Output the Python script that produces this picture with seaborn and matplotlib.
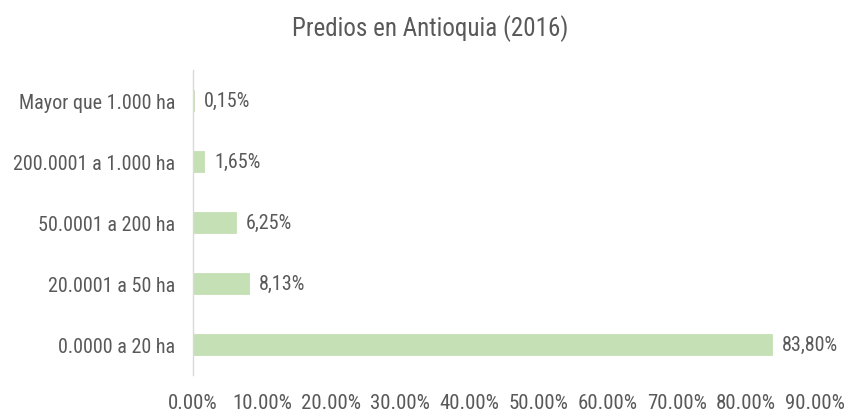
import matplotlib.pyplot as plt
import seaborn as sns
import pandas as pd

categorias = ["Mayor que 1.000 ha", "200.0001 a 1.000 ha", "50.0001 a 200 ha",
              "20.0001 a 50 ha", "0.0000 a 20 ha"]
porcentajes = [0.15, 1.65, 6.25, 8.13, 83.80]
ticks = [0, 10, 20, 30, 40, 50, 60, 70, 80, 90]

sns.set_style("white")
plt.rcParams["font.family"] = ["Roboto Condensed", "Liberation Sans", "DejaVu Sans"]

gris = "#595959"
df = pd.DataFrame({"cat": categorias, "pct": porcentajes})

fig = plt.figure(figsize=(8.47, 4.14), dpi=100)
ax = fig.add_axes([0.2279, 0.0906, 0.7343, 0.7391])

sns.barplot(data=df, x="pct", y="cat", color="#c5e0b4", width=0.34,
            saturation=1, edgecolor="#c5e0b4", linewidth=0.6, ax=ax)

for i, v in enumerate(porcentajes):
    ax.annotate(f"{v:.2f}%".replace(".", ","), (v, i), xytext=(7, 0),
                textcoords="offset points", va="center", ha="left",
                fontsize=14.5, color=gris)

ax.set_xlim(0, 90)
ax.set_ylim(4.5, -0.5)
ax.set_xticks(ticks)
ax.set_xticklabels([f"{t:.2f}%" for t in ticks])
ax.tick_params(axis="y", length=0, labelsize=14.5, colors=gris, pad=13)
ax.tick_params(axis="x", length=0, labelsize=15, colors=gris, pad=12.5)
ax.set_xlabel("")
ax.set_ylabel("")

for s in ["top", "right", "bottom"]:
    ax.spines[s].set_visible(False)
ax.spines["left"].set_color("#d9d9d9")
ax.spines["left"].set_linewidth(1)

fig.text(0.508, 0.932, "Predios en Antioquia (2016)", ha="center", va="center",
         fontsize=18, color=gris)

plt.savefig("out.png", dpi=100)
plt.close()
